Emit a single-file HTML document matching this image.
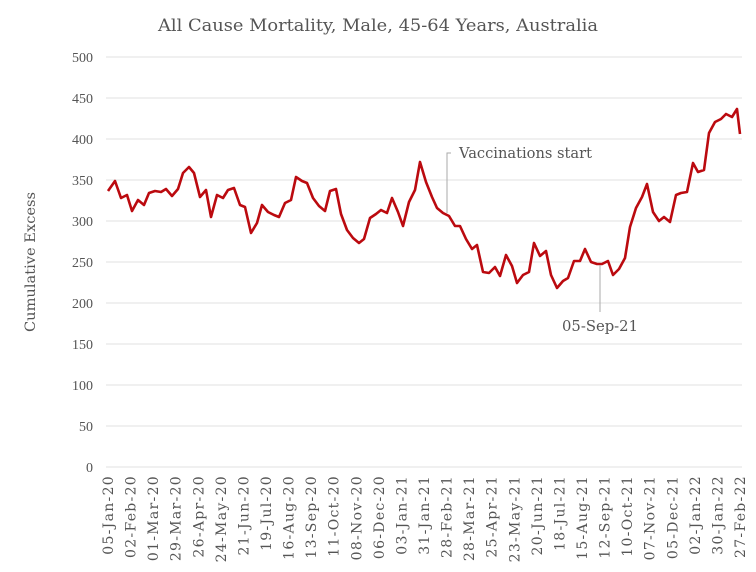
<!DOCTYPE html><html><head><style>body{margin:0;background:#fff}</style></head><body>
<svg width="756" height="567" xmlns="http://www.w3.org/2000/svg" font-family="'DejaVu Serif','Liberation Serif',serif" fill="#555">
<text x="378" y="31" text-anchor="middle" font-size="17" textLength="440" lengthAdjust="spacingAndGlyphs">All Cause Mortality, Male, 45-64 Years, Australia</text>
<g stroke="#e2e2e2" stroke-width="1">
<line x1="106" x2="742" y1="57" y2="57"/><line x1="106" x2="742" y1="98" y2="98"/><line x1="106" x2="742" y1="139" y2="139"/><line x1="106" x2="742" y1="180" y2="180"/><line x1="106" x2="742" y1="221" y2="221"/><line x1="106" x2="742" y1="262" y2="262"/><line x1="106" x2="742" y1="303" y2="303"/><line x1="106" x2="742" y1="344" y2="344"/><line x1="106" x2="742" y1="385" y2="385"/><line x1="106" x2="742" y1="426" y2="426"/><line x1="106" x2="742" y1="467" y2="467"/>
</g>
<g font-size="14" text-anchor="end" font-family="'Liberation Serif',serif">
<text x="93" y="62">500</text><text x="93" y="103">450</text><text x="93" y="144">400</text><text x="93" y="185">350</text><text x="93" y="226">300</text><text x="93" y="267">250</text><text x="93" y="308">200</text><text x="93" y="349">150</text><text x="93" y="390">100</text><text x="93" y="431">50</text><text x="93" y="472">0</text>
</g>
<text transform="translate(35,262) rotate(-90)" text-anchor="middle" font-size="14" textLength="140" lengthAdjust="spacingAndGlyphs">Cumulative Excess</text>
<polyline fill="none" stroke="#bb0a0f" stroke-width="2.6" stroke-linejoin="round" points="108,191 115,181 121,198 127,195 132,211 138,200 144,205 149,193 155,191 161,192 166,189 172,196 178,189 183,173 189,167 194,173 200,197 206,190 211,217 217,195 223,198 228,190 234,188 240,205 245,207 251,233 257,223 262,205 268,212 274,215 279,217 285,203 291,200 296,177 302,181 307,183 313,198 319,206 325,211 330,191 336,189 341,214 347,230 353,238 359,243 364,239 370,218 376,214 381,210 387,213 392,198 398,212 403,226 409,202 415,190 420,162 426,182 432,197 437,208 443,213 449,216 455,226 460,226 466,239 472,249 477,245 483,272 489,273 495,267 500,276 506,255 512,266 517,283 523,275 529,272 534,243 540,256 546,251 551,275 557,288 563,281 568,278 574,261 580,261 585,249 591,262 597,264 602,264 608,261 613,275 619,269 625,258 630,227 636,208 642,197 647,184 653,212 659,221 664,217 670,222 676,195 681,193 687,192 693,163 698,172 704,170 709,133 715,122 721,119 726,114 732,117 737,109 740,134"/>
<polyline fill="none" stroke="#aaa" stroke-width="1" points="447,213 447,153 451,153"/>
<text x="459" y="158" font-size="15" textLength="133" lengthAdjust="spacingAndGlyphs">Vaccinations start</text>
<line x1="600" y1="265" x2="600" y2="312" stroke="#aaa"/>
<text x="600" y="331" text-anchor="middle" font-size="15" textLength="76" lengthAdjust="spacingAndGlyphs">05-Sep-21</text>
<g font-size="14" text-anchor="end" letter-spacing="1.3">
<text transform="translate(113,475) rotate(-90)">05-Jan-20</text>
<text transform="translate(135.6,475) rotate(-90)">02-Feb-20</text>
<text transform="translate(158.1,475) rotate(-90)">01-Mar-20</text>
<text transform="translate(180.7,475) rotate(-90)">29-Mar-20</text>
<text transform="translate(203.3,475) rotate(-90)">26-Apr-20</text>
<text transform="translate(225.9,475) rotate(-90)">24-May-20</text>
<text transform="translate(248.4,475) rotate(-90)">21-Jun-20</text>
<text transform="translate(271,475) rotate(-90)">19-Jul-20</text>
<text transform="translate(293.6,475) rotate(-90)">16-Aug-20</text>
<text transform="translate(316.1,475) rotate(-90)">13-Sep-20</text>
<text transform="translate(338.7,475) rotate(-90)">11-Oct-20</text>
<text transform="translate(361.3,475) rotate(-90)">08-Nov-20</text>
<text transform="translate(383.9,475) rotate(-90)">06-Dec-20</text>
<text transform="translate(406.4,475) rotate(-90)">03-Jan-21</text>
<text transform="translate(429,475) rotate(-90)">31-Jan-21</text>
<text transform="translate(451.6,475) rotate(-90)">28-Feb-21</text>
<text transform="translate(474.1,475) rotate(-90)">28-Mar-21</text>
<text transform="translate(496.7,475) rotate(-90)">25-Apr-21</text>
<text transform="translate(519.3,475) rotate(-90)">23-May-21</text>
<text transform="translate(541.9,475) rotate(-90)">20-Jun-21</text>
<text transform="translate(564.4,475) rotate(-90)">18-Jul-21</text>
<text transform="translate(587,475) rotate(-90)">15-Aug-21</text>
<text transform="translate(609.6,475) rotate(-90)">12-Sep-21</text>
<text transform="translate(632.1,475) rotate(-90)">10-Oct-21</text>
<text transform="translate(654.7,475) rotate(-90)">07-Nov-21</text>
<text transform="translate(677.3,475) rotate(-90)">05-Dec-21</text>
<text transform="translate(699.9,475) rotate(-90)">02-Jan-22</text>
<text transform="translate(722.4,475) rotate(-90)">30-Jan-22</text>
<text transform="translate(745,475) rotate(-90)">27-Feb-22</text>
</g>
</svg>
</body></html>
